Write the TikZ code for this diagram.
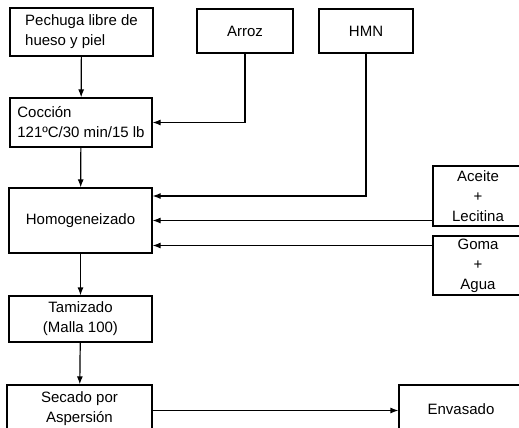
\documentclass[tikz,border=0pt]{standalone}
\usepackage{fontspec}
\setmainfont{Liberation Sans}
\usetikzlibrary{calc,arrows.meta,positioning}

\begin{document}
\begin{tikzpicture}[x=1pt,y=-1pt]
\fontsize{15}{20}\selectfont
\tikzstyle{box}=[draw=black, line width=1.2pt, inner sep=0pt, align=center]
\tikzstyle{flecha}=[-{Latex[length=8pt,width=6pt]}, line width=1.2pt]
\useasboundingbox (0,0) rectangle (519,428);
\clip (0,0) rectangle (519,428);
% entradas de arriba
\node[box, minimum width=143pt, minimum height=48pt, align=left] (pechuga) at (81.5,32) {Pechuga libre de\\hueso y piel};
\node[box, minimum width=96pt, minimum height=44pt] (arroz) at (245,31) {Arroz};
\node[box, minimum width=94pt, minimum height=44pt] (hmn) at (366,31) {HMN};
% proceso
\node[box, minimum width=142pt, minimum height=49pt, align=left] (coccion) at (81,122.5) {Cocci\'on\\121ºC/30 min/15 lb};
\node[box, minimum width=143pt, minimum height=65pt] (homog) at (80.5,220.5) {Homogeneizado};
\node[box, minimum width=143pt, minimum height=46pt] (tamiz) at (80.5,319) {Tamizado\\(Malla 100)};
\node[box, minimum width=145pt, minimum height=48pt] (secado) at (79.5,409) {Secado por\\Aspersi\'on};
\node[box, minimum width=124pt, minimum height=48pt] (envase) at (461,409) {Envasado};
% entradas de la derecha
\node[box, minimum width=90pt, minimum height=60pt] (aceite) at (478,196) {Aceite\\+\\Lecitina};
\node[box, minimum width=90pt, minimum height=59pt] (goma) at (478,265.5) {Goma\\+\\Agua};
\coordinate (hin) at ([yshift=24.5pt]homog.east);
\coordinate (gin) at ([yshift=-25pt]homog.east);
% flechas
\draw[flecha] (pechuga) -- (coccion);
\draw[flecha] (arroz.south) |- (coccion.east);
\draw[flecha] (coccion) -- (homog);
\draw[flecha] (hmn.south) |- (hin);
\draw[flecha] (aceite.west |- homog.east) -- (homog.east);
\draw[flecha] (goma.west |- gin) -- (gin);
\draw[flecha] (homog) -- (tamiz);
\draw[flecha] (tamiz) -- (secado);
\draw[flecha] ([yshift=-1.5pt]secado.east) -- ([yshift=-1.5pt]envase.west);
\end{tikzpicture}
\end{document}
